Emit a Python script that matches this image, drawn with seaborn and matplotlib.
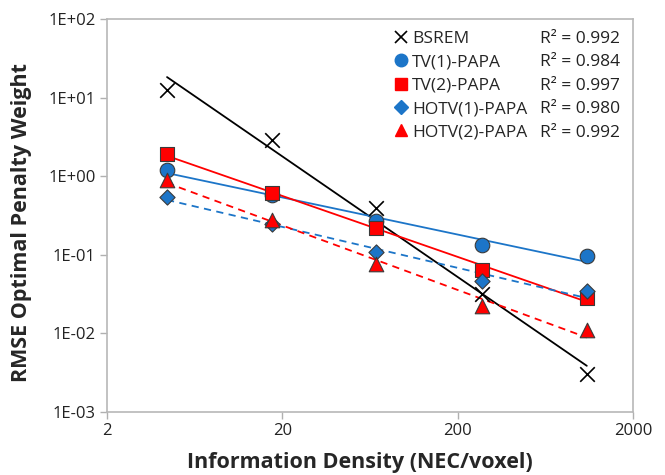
import numpy as np
import pandas as pd
import matplotlib
matplotlib.use("Agg")
import matplotlib.pyplot as plt
import seaborn as sns
from matplotlib.lines import Line2D
from matplotlib.ticker import FixedLocator, FuncFormatter, NullLocator

# ---- data ----
density = [4.4, 17.4, 68, 274, 1090]
series_names = ["BSREM", "TV(1)-PAPA", "TV(2)-PAPA", "HOTV(1)-PAPA", "HOTV(2)-PAPA"]
bsrem = [12.5, 2.89, 0.39, 0.032, 0.00305]
tv1 = [1.2, 0.577, 0.27, 0.133, 0.0966]
tv2 = [1.92, 0.605, 0.217, 0.065, 0.028]
hotv1 = [0.55, 0.246, 0.108, 0.047, 0.0346]
hotv2 = [0.895, 0.277, 0.0757, 0.0223, 0.011]
r2_labels = ["R\u00b2 = 0.992", "R\u00b2 = 0.984", "R\u00b2 = 0.997", "R\u00b2 = 0.980", "R\u00b2 = 0.992"]
x_ticks = [2, 20, 200, 2000]
y_ticks = [1e-3, 1e-2, 1e-1, 1e0, 1e1, 1e2]

values = [bsrem, tv1, tv2, hotv1, hotv2]
BLUE = "#1c75c8"
RED = "#ff0000"
colors = ["black", BLUE, RED, BLUE, RED]
markers = ["x", "o", "s", "D", "^"]
sizes = [110, 110, 110, 60, 110]
linestyles = ["-", "-", "-", (0, (4, 3)), (0, (4, 3))]

sns.set_theme(style="white")
plt.rcParams["font.family"] = ["Open Sans", "DejaVu Sans"]

fig = plt.figure(figsize=(6.65, 4.75), dpi=100)
ax = fig.add_axes([0.1609, 0.1326, 0.791, 0.8274])
ax.set_xscale("log")
ax.set_yscale("log")

handles = []
for name, vals, c, m, s, ls in zip(series_names, values, colors, markers, sizes, linestyles):
    x = np.array(density, dtype=float)
    y = np.array(vals, dtype=float)
    # power-law trend line (least squares in log-log space)
    slope, intercept = np.polyfit(np.log10(x), np.log10(y), 1)
    xf = np.array([x.min(), x.max()])
    yf = 10 ** (intercept + slope * np.log10(xf))
    fit_df = pd.DataFrame({"x": xf, "y": yf})
    sns.lineplot(data=fit_df, x="x", y="y", ax=ax, color=c, linewidth=1.3,
                 linestyle="-", zorder=2)
    if not isinstance(ls, str):
        ax.lines[-1].set_linestyle(ls)
    df = pd.DataFrame({"x": x, "y": y})
    if m == "x":
        sns.scatterplot(data=df, x="x", y="y", ax=ax, marker="x", s=s, color="black",
                        linewidth=1.2, zorder=3)
        handles.append(Line2D([], [], linestyle="none", marker="x", color="black",
                              markersize=9, markeredgewidth=1.2))
    else:
        sns.scatterplot(data=df, x="x", y="y", ax=ax, marker=m, s=s, color=c,
                        edgecolor="#3a3a3a", linewidth=0.8, zorder=3)
        handles.append(Line2D([], [], linestyle="none", marker=m, markerfacecolor=c,
                              markeredgecolor=c, markersize=9 if m != "D" else 7))

ax.set_xlim(2, 2000)
ax.set_ylim(1e-3, 1e2)
ax.xaxis.set_major_locator(FixedLocator(x_ticks))
ax.xaxis.set_minor_locator(NullLocator())
ax.yaxis.set_major_locator(FixedLocator(y_ticks))
ax.yaxis.set_minor_locator(NullLocator())
ax.xaxis.set_major_formatter(FuncFormatter(lambda v, p: f"{v:g}"))
ax.yaxis.set_major_formatter(FuncFormatter(lambda v, p: f"{v:.0E}"))
ax.tick_params(axis="both", which="major", length=5, width=1, color="#b0b0b0",
               labelsize=12, labelcolor="#222222", direction="out", bottom=True, left=True,
               pad=3)
for sp in ax.spines.values():
    sp.set_color("#b8b8b8")
    sp.set_linewidth(1.2)

ax.set_xlabel("Information Density (NEC/voxel)", fontsize=15.5, fontweight="bold")
ax.set_ylabel("RMSE Optimal Penalty Weight", fontsize=15.5, fontweight="bold")
ax.xaxis.set_label_coords(0.481, -0.103)
ax.yaxis.set_label_coords(-0.143, 0.483)

leg = ax.legend(handles, series_names, loc="upper left", bbox_to_anchor=(0.53, 0.997),
                frameon=False, fontsize=12.5, handlelength=0.6, handletextpad=0.3,
                labelspacing=0.42, borderaxespad=0.2)

fig.canvas.draw()
inv = ax.transAxes.inverted()
for txt, r2 in zip(leg.get_texts(), r2_labels):
    bb = txt.get_window_extent()
    cy = (bb.y0 + bb.y1) / 2
    _, ya = inv.transform((0, cy))
    ax.text(0.823, ya, r2, transform=ax.transAxes, fontsize=12.5, va="center", ha="left",
            color="#222222")

fig.savefig("out.png", dpi=100)
